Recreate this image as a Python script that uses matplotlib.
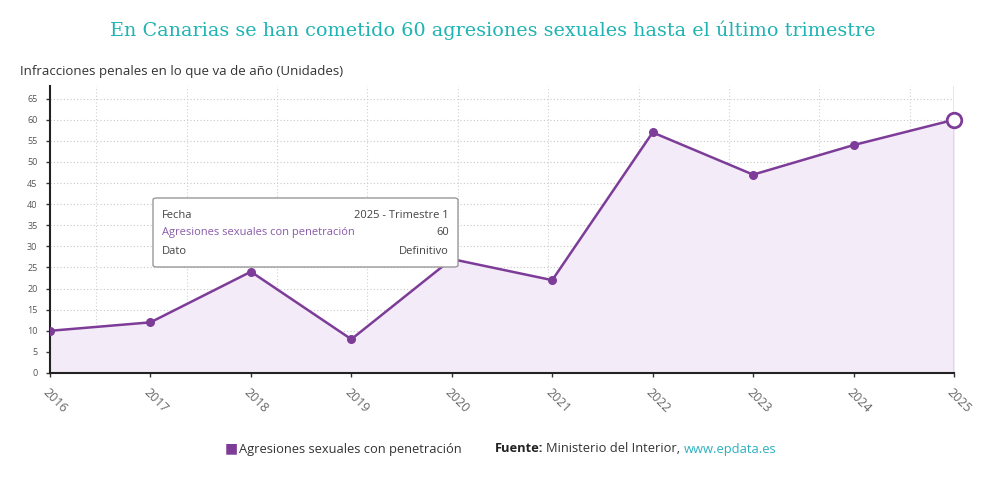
import matplotlib.pyplot as plt
from matplotlib.patches import FancyBboxPatch

# Datos
anios = ["2016", "2017", "2018", "2019", "2020", "2021", "2022", "2023", "2024", "2025"]
agresiones = [10, 12, 24, 8, 27, 22, 57, 47, 54, 60]
y_ticks = list(range(0, 70, 5))

morado = "#7d3c98"
relleno = "#f3ebf7"
gris = "#555555"

plt.rcParams['font.family'] = ['Open Sans', 'DejaVu Sans']

fig = plt.figure(figsize=(9.85, 4.8), dpi=100)
ax = fig.add_axes([50 / 985, 1 - 373 / 480, (954 - 50) / 985, (373 - 86) / 480])

x = list(range(len(anios)))
ax.fill_between(x, agresiones, 0, color=relleno, zorder=1)
ax.plot(x, agresiones, color=morado, lw=1.8, zorder=3)
ax.scatter(x[:-1], agresiones[:-1], s=30, color=morado, zorder=4)
ax.scatter(x[-1:], agresiones[-1:], s=110, facecolor="white", edgecolor=morado, lw=2, zorder=5, clip_on=False)

ax.set_xlim(0, len(anios) - 1)
ax.set_ylim(0, 68)
ax.set_yticks(y_ticks)
ax.set_yticklabels([str(v) for v in y_ticks], fontsize=6.5, color=gris)
ax.set_xticks(x)
ax.set_xticklabels(anios, rotation=-45, ha="left", va="top", fontsize=9, color="#666666",
                   rotation_mode="anchor")
ax.tick_params(axis="y", length=3, width=1, color="#333333", pad=6)
ax.tick_params(axis="x", length=3, width=1, color="#333333", pad=6)

# rejilla punteada
for v in y_ticks:
    ax.axhline(v, color="#c8c8c8", lw=0.8, ls=(0, (1, 2)), zorder=0)
for k in range(10):
    ax.axvline(0.46 + k * 0.9, color="#d0d0d0", lw=0.8, ls=(0, (1, 2)), zorder=0)
ax.axvline(len(anios) - 1, color="#888888", lw=1, zorder=2)

for s in ["top", "right"]:
    ax.spines[s].set_visible(False)
ax.spines["left"].set_color("#222222")
ax.spines["left"].set_linewidth(1.5)
ax.spines["bottom"].set_color("#222222")
ax.spines["bottom"].set_linewidth(1.5)

# Títulos
fig.text(0.5, 1 - 30 / 480, "En Canarias se han cometido 60 agresiones sexuales hasta el último trimestre",
         ha="center", va="center", fontsize=13.8, color="#1fb3b3", family="DejaVu Serif")
fig.text(20 / 985, 1 - 71 / 480, "Infracciones penales en lo que va de año (Unidades)",
         ha="left", va="center", fontsize=9.5, color="#333333")

# Tooltip
caja = FancyBboxPatch((153 / 985, 1 - 267 / 480), (458 - 153) / 985, (267 - 198) / 480,
                      boxstyle="round,pad=0,rounding_size=0.004", transform=fig.transFigure,
                      facecolor="white", edgecolor="#999999", lw=1, zorder=10)
fig.add_artist(caja)
filas = [("Fecha", "2025 - Trimestre 1", "#444444"),
         ("Agresiones sexuales con penetración", "60", "#8a5aa8"),
         ("Dato", "Definitivo", "#444444")]
for i, (izq, der, c) in enumerate(filas):
    yy = 1 - (215 + i * 18) / 480
    fig.text(162 / 985, yy, izq, ha="left", va="center", fontsize=8, color=c, zorder=11)
    fig.text(449 / 985, yy, der, ha="right", va="center", fontsize=8, color="#444444", zorder=11)

# Leyenda y fuente
fig.text(225 / 985, 1 - 449 / 480, "■", ha="left", va="center", fontsize=10, color=morado)
fig.text(239 / 985, 1 - 449 / 480, "Agresiones sexuales con penetración", ha="left", va="center",
         fontsize=9.3, color="#333333")
fig.text(495 / 985, 1 - 449 / 480, "Fuente:", ha="left", va="center", fontsize=9.3,
         color="#222222", weight="bold")
fig.text(546 / 985, 1 - 449 / 480, "Ministerio del Interior,", ha="left", va="center",
         fontsize=9.3, color="#333333")
fig.text(684 / 985, 1 - 449 / 480, "www.epdata.es", ha="left", va="center",
         fontsize=9.3, color="#2bb0c0")

fig.savefig("out.png", dpi=100)
